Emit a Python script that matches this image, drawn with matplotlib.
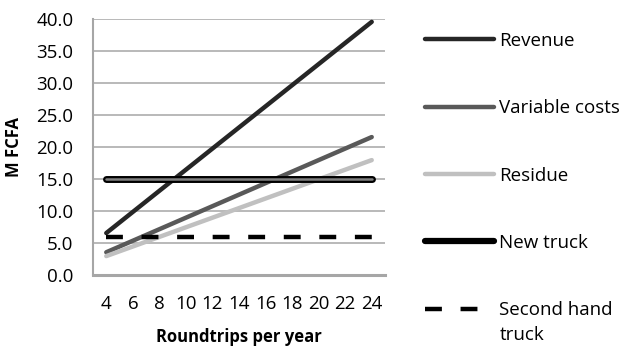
import matplotlib.pyplot as plt
from matplotlib.lines import Line2D

plt.rcParams['font.family'] = ['Open Sans', 'DejaVu Sans']

# data
roundtrips = ['4', '6', '8', '10', '12', '14', '16', '18', '20', '22', '24']
revenue = [6.6, 9.9, 13.2, 16.5, 19.8, 23.1, 26.4, 29.7, 33.0, 36.3, 39.6]
variable_costs = [3.6, 5.4, 7.2, 9.0, 10.8, 12.6, 14.4, 16.2, 18.0, 19.8, 21.6]
residue = [3.0, 4.5, 6.0, 7.5, 9.0, 10.5, 12.0, 13.5, 15.0, 16.5, 18.0]
new_truck = [15.0] * 11
second_hand = [6.0] * 11

fig = plt.figure(figsize=(6.25, 3.49), dpi=100)
ax = fig.add_axes([93 / 625, 1 - 275.3 / 349, 292 / 625, (275.3 - 19.3) / 349])

x = list(range(len(roundtrips)))

ax.plot(x, revenue, color='#262626', lw=3.2, solid_capstyle='round', label='Revenue', zorder=3)
ax.plot(x, variable_costs, color='#595959', lw=3.2, solid_capstyle='round', label='Variable costs', zorder=3)
ax.plot(x, residue, color='#c0c0c0', lw=3.2, solid_capstyle='round', label='Residue', zorder=3)
ax.plot(x, new_truck, color='black', lw=5.0, solid_capstyle='round', zorder=4)
ax.plot(x, new_truck, color='#808080', lw=1.8, solid_capstyle='round', zorder=5)
ax.plot(x, second_hand, color='black', lw=3.2, dashes=(3.8, 4.2), label='Second hand', zorder=3)

ax.set_xlim(-0.5, 10.5)
ax.set_ylim(0, 40)
ax.set_yticks([0, 5, 10, 15, 20, 25, 30, 35, 40])
ax.set_yticklabels(['%.1f' % v for v in ax.get_yticks()])
ax.set_xticks(x)
ax.set_xticklabels(roundtrips)
ax.tick_params(length=0, labelsize=13.5)
ax.tick_params(axis='x', pad=14.5)
ax.tick_params(axis='y', pad=14)

ax.grid(axis='y', color='#a6a6a6', lw=1.1, zorder=0)
for s in ['top', 'right']:
    ax.spines[s].set_visible(False)
ax.spines['left'].set_color('#a6a6a6')
ax.spines['left'].set_linewidth(1.5)
ax.spines['bottom'].set_color('#a6a6a6')
ax.spines['bottom'].set_linewidth(2.2)

ax.set_ylabel('M FCFA', fontsize=12, fontweight='bold', labelpad=10)
ax.set_xlabel('Roundtrips per year', fontsize=12, fontweight='bold', labelpad=10.5)

# legend (New truck shown as a plain thick black line)
handles, labels = ax.get_legend_handles_labels()
nt = Line2D([], [], color='black', lw=4.5, solid_capstyle='round')
handles = handles[:3] + [nt] + handles[3:]
labels = labels[:3] + ['New truck'] + labels[3:]
leg = fig.legend(handles, labels, loc='upper left', bbox_to_anchor=(425 / 625, 1 - 32 / 349),
                 frameon=False, fontsize=13.5, handlelength=3.7, handletextpad=0.25,
                 labelspacing=2.63, borderpad=0, borderaxespad=0)
fig.text(500 / 625, 1 - 335 / 349, 'truck', fontsize=13.5, va='center', ha='left')

fig.savefig('out.png', dpi=100)
